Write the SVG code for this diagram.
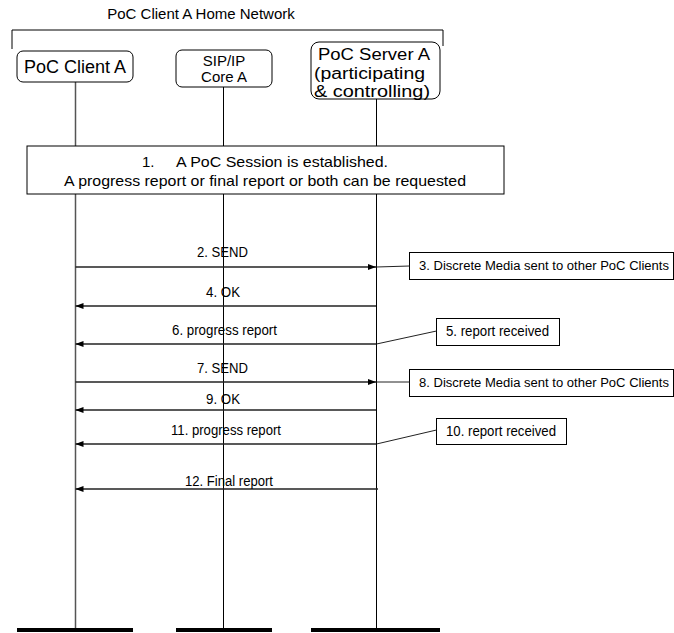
<svg xmlns="http://www.w3.org/2000/svg" width="674" height="633" viewBox="0 0 674 633">
<style>
text{font-family:"Liberation Sans",Arial,sans-serif;fill:#000}
.big{font-size:18px}
.srv{font-size:16px}
.mid{font-size:15px}
.lbl{font-size:14px}
.note{font-size:12.5px}
.box{fill:#fff;stroke:#000;stroke-width:1}
.ent{fill:#fff;stroke:#000;stroke-width:1}
.life{stroke:#000;stroke-width:1;fill:none}
.msg{stroke:#222;stroke-width:1.5;fill:none}
.lead{stroke:#222;stroke-width:1;fill:none}
.bar{fill:#000}
</style>
<defs>
<marker id="ah" viewBox="0 0 8 6" refX="8" refY="3" markerWidth="8" markerHeight="6" markerUnits="userSpaceOnUse" orient="auto">
<path d="M0,0 L8,3 L0,6 z" fill="#000"/>
</marker>
</defs>

<g id="home-network">
<text class="mid" x="201" y="19" text-anchor="middle">PoC Client A Home Network</text>
<path class="life" d="M12,49 V30 H443 V46"/>
</g>

<g id="lifelines">
<line x1="75.5" y1="82" x2="75.5" y2="630" stroke="#555" stroke-width="1.5"/>
<line class="life" x1="223.5" y1="87" x2="223.5" y2="630"/>
<line class="life" x1="376.5" y1="99" x2="376.5" y2="630"/>
<rect class="bar" x="17" y="628" width="116" height="4"/>
<rect class="bar" x="176" y="628" width="96" height="4"/>
<rect class="bar" x="311" y="628" width="129" height="4"/>
</g>

<g id="poc-client-a">
<rect class="ent" x="17" y="51" width="116" height="31" rx="6"/>
<text class="big" x="75" y="73" text-anchor="middle">PoC Client A</text>
</g>

<g id="sip-ip-core-a">
<rect class="ent" x="176" y="50" width="96" height="37" rx="6"/>
<text class="mid" x="224" y="66" text-anchor="middle">SIP/IP</text>
<text class="mid" x="224" y="82" text-anchor="middle">Core A</text>
</g>

<g id="poc-server-a">
<rect class="ent" x="311" y="42" width="129" height="57" rx="8"/>
<text class="srv" x="318" y="60" textLength="112" lengthAdjust="spacingAndGlyphs">PoC Server A</text>
<text class="srv" x="314" y="78.5" textLength="111" lengthAdjust="spacingAndGlyphs">(participating</text>
<text class="srv" x="314" y="97" textLength="116" lengthAdjust="spacingAndGlyphs">&amp; controlling)</text>
</g>

<g id="session">
<rect class="box" x="27" y="146" width="477" height="48"/>
<text class="mid" x="142" y="167">1.</text>
<text class="mid" x="176" y="167" textLength="212" lengthAdjust="spacingAndGlyphs">A PoC Session is established.</text>
<text class="mid" x="64" y="186" textLength="402" lengthAdjust="spacingAndGlyphs">A progress report or final report or both can be requested</text>
</g>

<g id="note-3">
<rect class="box" x="409.5" y="252.5" width="264" height="27"/>
<text class="note" x="419" y="270" textLength="250" lengthAdjust="spacingAndGlyphs">3. Discrete Media sent to other PoC Clients</text>
</g>

<g id="note-5">
<rect class="box" x="436.5" y="318.5" width="123" height="27"/>
<text class="lbl" x="446" y="336" textLength="103" lengthAdjust="spacingAndGlyphs">5. report received</text>
</g>

<g id="note-8">
<rect class="box" x="409.5" y="369.5" width="264" height="27"/>
<text class="note" x="419" y="387" textLength="250" lengthAdjust="spacingAndGlyphs">8. Discrete Media sent to other PoC Clients</text>
</g>

<g id="note-10">
<rect class="box" x="436.5" y="418.5" width="130" height="26"/>
<text class="lbl" x="446" y="436" textLength="110" lengthAdjust="spacingAndGlyphs">10. report received</text>
</g>

<g id="connectors">
<line class="msg" x1="75.5" y1="267" x2="376" y2="267" marker-end="url(#ah)"/>
<line class="lead" x1="376.5" y1="267" x2="409.5" y2="266"/>
<line class="msg" x1="376" y1="306" x2="75.5" y2="306" marker-end="url(#ah)"/>
<line class="msg" x1="376" y1="344" x2="75.5" y2="344" marker-end="url(#ah)"/>
<line class="lead" x1="376.5" y1="344" x2="436.5" y2="331"/>
<line class="msg" x1="75.5" y1="382" x2="376" y2="382" marker-end="url(#ah)"/>
<line class="lead" x1="376.5" y1="382" x2="409.5" y2="382"/>
<line class="msg" x1="376" y1="410" x2="75.5" y2="410" marker-end="url(#ah)"/>
<line class="msg" x1="376" y1="444" x2="75.5" y2="444" marker-end="url(#ah)"/>
<line class="lead" x1="376.5" y1="444" x2="436.5" y2="430"/>
<line class="msg" x1="378" y1="489" x2="75.5" y2="489" marker-end="url(#ah)"/>
</g>

<g id="labels">
<text class="lbl" x="197" y="257" textLength="51" lengthAdjust="spacingAndGlyphs">2. SEND</text>
<text class="lbl" x="206" y="297" textLength="34" lengthAdjust="spacingAndGlyphs">4. OK</text>
<text class="lbl" x="172" y="335" textLength="105" lengthAdjust="spacingAndGlyphs">6. progress report</text>
<text class="lbl" x="197" y="373" textLength="51" lengthAdjust="spacingAndGlyphs">7. SEND</text>
<text class="lbl" x="206" y="404" textLength="34" lengthAdjust="spacingAndGlyphs">9. OK</text>
<text class="lbl" x="171" y="435" textLength="110" lengthAdjust="spacingAndGlyphs">11. progress report</text>
<text class="lbl" x="185" y="486" textLength="88" lengthAdjust="spacingAndGlyphs">12. Final report</text>
</g>
</svg>
